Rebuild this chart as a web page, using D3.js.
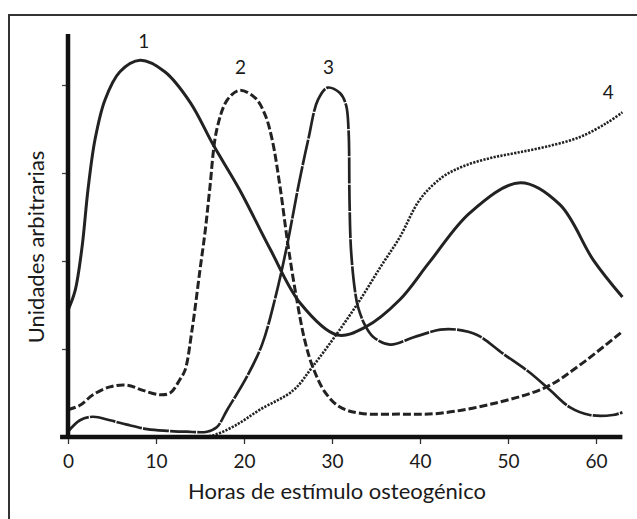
<!DOCTYPE html>
<html>
<head>
<meta charset="utf-8">
<script src="https://cdn.jsdelivr.net/npm/d3@7"></script>
<style>
  html, body { margin: 0; padding: 0; background: #fff; }
  svg { display: block; }
  text { font-family: "Lato", "DejaVu Sans", sans-serif; fill: #1a1a1a; }
</style>
</head>
<body>
<svg id="chart" width="637" height="519"></svg>
<script>
// Hours of osteogenic stimulus (x) and arbitrary units (y) for each curve
const hours1 = [0, 0.8, 1.6, 2.27, 3.07, 4.2, 5.9, 8.2, 11.0, 13.9, 16.5, 19.5, 23.0, 26.4, 30.6, 33.8, 37.7, 41.1, 45.7, 51.4, 55.9, 59.7, 63];
const units1 = [1.44, 1.66, 2.16, 2.81, 3.38, 3.83, 4.15, 4.28, 4.15, 3.80, 3.32, 2.81, 2.13, 1.52, 1.16, 1.25, 1.56, 1.99, 2.55, 2.89, 2.64, 2.01, 1.59];

const hours2 = [0, 1.36, 2.84, 4.77, 6.7, 8.5, 10.45, 11.6, 12.7, 13.3, 14.1, 15.0, 15.6, 16.1, 16.9, 18.1, 19.5, 21.3, 22.4, 23.2, 24.1, 25.0, 26.0, 26.9, 27.8, 29.2, 30.9, 33.2, 37.7, 42.3, 48.75, 54.4, 58.2, 63];
const units2 = [0.31, 0.36, 0.48, 0.57, 0.59, 0.53, 0.48, 0.50, 0.65, 0.76, 1.22, 1.90, 2.35, 2.81, 3.49, 3.83, 3.94, 3.85, 3.66, 3.38, 2.84, 2.18, 1.56, 1.10, 0.80, 0.51, 0.34, 0.27, 0.26, 0.27, 0.39, 0.57, 0.82, 1.20];

const hours3 = [0, 1.36, 2.84, 4.77, 6.7, 9.0, 11.25, 13.5, 15.8, 16.9, 18.1, 20.3, 22.05, 23.5, 24.9, 26.1, 27.3, 28.4, 29.5, 30.9, 31.6, 31.88, 31.99, 32.16, 32.6, 32.95, 33.75, 34.66, 36.6, 39.2, 42.3, 44.2, 46.5, 49.4, 52.5, 54.8, 57.0, 59.3, 61.9, 63];
const units3 = [0.06, 0.19, 0.23, 0.19, 0.14, 0.09, 0.07, 0.06, 0.06, 0.11, 0.31, 0.68, 1.05, 1.56, 2.18, 2.81, 3.38, 3.83, 3.97, 3.91, 3.77, 3.49, 2.69, 2.13, 1.67, 1.48, 1.27, 1.14, 1.05, 1.13, 1.22, 1.22, 1.16, 0.95, 0.73, 0.53, 0.34, 0.25, 0.25, 0.28];

const hours4 = [14.43, 16.5, 19.0, 21.8, 25.6, 27.8, 30.6, 33.2, 35.5, 37.7, 40.0, 42.5, 45.0, 48.0, 51.0, 54.4, 58.2, 61.25, 63];
const units4 = [0, 0.02, 0.13, 0.31, 0.53, 0.80, 1.18, 1.56, 1.93, 2.27, 2.70, 2.95, 3.08, 3.17, 3.23, 3.30, 3.41, 3.57, 3.69];

const xTicks = [0, 10, 20, 30, 40, 50, 60];
const yTicks = [0, 1, 2, 3, 4];
const curveNames = ["1", "2", "3", "4"];
// label anchor (hour, units) above each curve's marked peak / end
const labelHours = [8.6, 19.6, 29.6, 61.4];
const labelUnits = [4.42, 4.12, 4.12, 3.84];

const xTitle = "Horas de estímulo osteogénico";
const yTitle = "Unidades arbitrarias";

const svg = d3.select("#chart");

const x = d3.scaleLinear().domain([0, 60]).range([68, 596]);
const y = d3.scaleLinear().domain([0, 4]).range([437, 85]);

// outer frame (top and left edges)
svg.append("path")
  .attr("d", "M9,519 L9,15 L637,15")
  .attr("fill", "none")
  .attr("stroke", "#333")
  .attr("stroke-width", 2);

// series
const series = [
  { h: hours1, u: units1, dash: null, w: 3 },
  { h: hours2, u: units2, dash: "8,3", w: 3 },
  { h: hours3, u: units3, dash: "26,1.2", w: 2.7 },
  { h: hours4, u: units4, dash: "2.2,1.3", w: 2.6 }
];

const line = d3.line()
  .x(d => x(d[0]))
  .y(d => y(d[1]))
  .curve(d3.curveCatmullRom.alpha(0.5));

series.forEach(s => {
  svg.append("path")
    .datum(s.h.map((h, i) => [h, s.u[i]]))
    .attr("d", line)
    .attr("fill", "none")
    .attr("stroke", "#222")
    .attr("stroke-width", s.w)
    .attr("stroke-linecap", "butt")
    .attr("stroke-dasharray", s.dash);
});

// x axis ticks and labels
const xAxis = d3.axisBottom(x).tickValues(xTicks).tickSize(7).tickPadding(11);
const gx = svg.append("g").attr("transform", `translate(0,${y(0)})`).call(xAxis);
gx.select(".domain").remove();
gx.selectAll(".tick line").attr("stroke", "#333").attr("stroke-width", 1.3);
gx.selectAll(".tick text").style("font-size", "19px").attr("fill", "#1a1a1a");

// y axis ticks (no labels)
const yAxis = d3.axisLeft(y).tickValues(yTicks).tickSize(6).tickFormat("");
const gy = svg.append("g").attr("transform", `translate(${x(0)},0)`).call(yAxis);
gy.select(".domain").remove();
gy.selectAll(".tick line").attr("stroke", "#444").attr("stroke-width", 1.3);

// heavy axis lines
svg.append("line")
  .attr("x1", x(-0.9)).attr("x2", x(63))
  .attr("y1", y(0)).attr("y2", y(0))
  .attr("stroke", "#111").attr("stroke-width", 4.5);
svg.append("line")
  .attr("x1", x(0)).attr("x2", x(0))
  .attr("y1", y(0) + 2).attr("y2", y(4.58))
  .attr("stroke", "#111").attr("stroke-width", 4.5);

// curve numbers
svg.selectAll("text.curve-label")
  .data(curveNames)
  .join("text")
  .attr("class", "curve-label")
  .attr("x", (d, i) => x(labelHours[i]))
  .attr("y", (d, i) => y(labelUnits[i]))
  .attr("text-anchor", "middle")
  .style("font-size", "19px")
  .text(d => d);

// axis titles
svg.append("text")
  .attr("x", 337).attr("y", 499)
  .attr("text-anchor", "middle")
  .style("font-size", "22px")
  .text(xTitle);

svg.append("text")
  .attr("transform", "translate(44,247) rotate(-90)")
  .attr("text-anchor", "middle")
  .style("font-size", "22px")
  .text(yTitle);
</script>
</body>
</html>
